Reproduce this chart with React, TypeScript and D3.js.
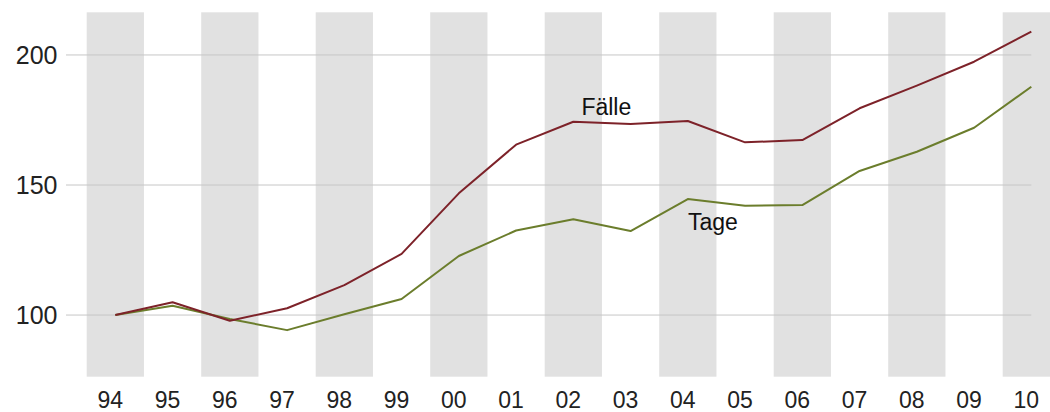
import React from "react";
import * as d3 from "d3";

const years = ["94","95","96","97","98","99","00","01","02","03","04","05","06","07","08","09","10"];
const faelle = [100, 104.9, 97.8, 102.6, 111.5, 123.5, 146.8, 165.5, 174.3, 173.5, 174.6, 166.4, 167.3, 179.5, 188.2, 197.4, 209];
const tage = [100, 103.6, 98.5, 94.2, 100.3, 106.2, 122.7, 132.5, 136.8, 132.3, 144.6, 142, 142.3, 155.4, 162.8, 172, 187.8];
const yTicks = [100, 150, 200];
const seriesNames = ["Fälle", "Tage"];

const W = 1050;
const H = 412;

export default function App() {
  const x = d3.scaleBand<string>().domain(years).range([86.7, 86.7 + 57.25 * years.length]).padding(0);
  const y = d3.scaleLinear().domain([76.3, 216.4]).range([376.7, 12.3]);
  const cx = (i: number) => (x(years[i]) as number) + x.bandwidth() / 2;
  const line = d3.line<number>().x((_, i) => cx(i)).y((d) => y(d));
  const font = "'Liberation Sans', Arial, sans-serif";
  const [yMin, yMax] = y.domain();

  return (
    <svg width={W} height={H} style={{ position: "absolute", left: 0, top: 0, display: "block", background: "#fff" }}>
      {years.map((yr, i) =>
        i % 2 === 0 ? (
          <rect key={yr} x={x(yr)} y={y(yMax)} width={x.bandwidth()} height={y(yMin) - y(yMax)} fill="#e1e1e1" />
        ) : null
      )}
      {yTicks.map((t) => (
        <g key={t}>
          <line x1={66} x2={cx(years.length - 1)} y1={y(t)} y2={y(t)} stroke="#c6c6c6" strokeWidth={1} />
          <text x={57.5} y={y(t)} dy="0.36em" textAnchor="end" fontFamily={font} fontSize={25} fill="#222">
            {t}
          </text>
        </g>
      ))}
      <path d={line(tage) || ""} fill="none" stroke="#6b7d2c" strokeWidth={2} strokeLinejoin="round" />
      <path d={line(faelle) || ""} fill="none" stroke="#7d2229" strokeWidth={2} strokeLinejoin="round" />
      {years.map((yr, i) => (
        <text key={yr} x={cx(i) - 5} y={408} textAnchor="middle" fontFamily={font} fontSize={23} fill="#222">
          {yr}
        </text>
      ))}
      <text x={cx(8) + 33} y={y(faelle[8]) - 7} textAnchor="middle" fontFamily={font} fontSize={23} fill="#111">
        {seriesNames[0]}
      </text>
      <text x={cx(10) + 25} y={y(tage[10]) + 31} textAnchor="middle" fontFamily={font} fontSize={23} fill="#111">
        {seriesNames[1]}
      </text>
    </svg>
  );
}
